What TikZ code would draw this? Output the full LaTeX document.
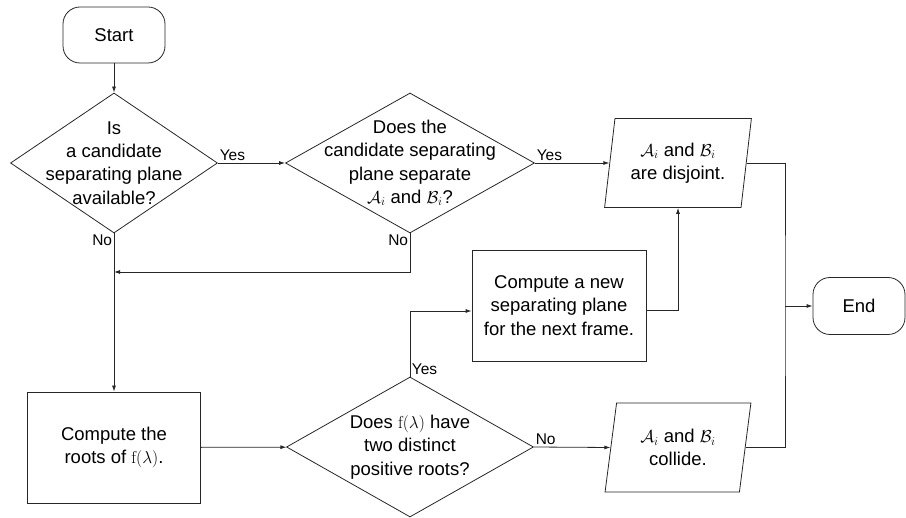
\documentclass[tikz,border=0pt]{standalone}
\usepackage[no-math]{fontspec}
\setmainfont{Liberation Sans}
\usepackage{amsmath}
\usetikzlibrary{shapes.geometric, positioning, calc, arrows.meta}
\tikzset{
	flow/.style={draw=black!85, line width=0.8pt},
	terminal/.style={flow, rectangle, rounded corners=17pt, minimum width=102pt, minimum height=56pt},
	process/.style={flow, rectangle, minimum width=174pt, minimum height=111pt, align=center},
	decision/.style={flow, diamond, inner sep=0pt, minimum width=#1, minimum height=140pt},
	io/.style={flow, trapezium, trapezium left angle=80, trapezium right angle=100, trapezium stretches=true, minimum width=147pt, minimum height=89pt, align=center},
	answer/.style={font=\fontsize{15.5}{17}\selectfont, inner sep=1.5pt},
	link/.style={flow, -{Latex[length=6pt,width=4pt]}}
}

\begin{document}
\begin{tikzpicture}[x=1pt, y=-1pt, every node/.append style={font=\fontsize{18.5}{23.3}\selectfont}]
	\useasboundingbox (0,0) rectangle (906,518);
	\node[terminal] (start) at (114,35) {Start};
	\node[decision=207pt, label={[align=center]center:Is\\a candidate\\separating plane\\available?}] (plane avail) at (114,163) {};
	\node[decision=249pt, label={[align=center]center:Does the\\candidate separating\\plane separate\\$\mathcal{A}_i$ and $\mathcal{B}_i$?}] (plane test) at (410,163) {};
	\node[io] (disjoint) at (678,163) {$\mathcal{A}_i$ and $\mathcal{B}_i$\\are disjoint.};
	\node[process] (new plane) at (559,305.5) {Compute a new\\separating plane\\for the next frame.};
	\node[terminal, minimum width=92pt, minimum height=57pt] (end) at (859,306) {End};
	\node[process, minimum width=173pt] (roots) at (114,447.5) {Compute the\\roots of $\mathrm{f}(\lambda)$.};
	\node[decision=247pt, label={[align=center]center:Does $\mathrm{f}(\lambda)$ have\\two distinct\\positive roots?}] (root test) at (410,447) {};
	\node[io] (collide) at (678,447.5) {$\mathcal{A}_i$ and $\mathcal{B}_i$\\collide.};
	\coordinate (merge) at (114,272);
	\coordinate (join) at (785,306);

	\draw[link] (start) -- (plane avail);
	\draw[link] (plane avail.east) -- node[answer, pos=0, anchor=south west] {Yes} (plane test.west);
	\draw[link] (plane avail.south) -- node[answer, pos=0, anchor=north east] {No} (roots.north);
	\draw[link] (plane test.east) -- node[answer, pos=0, anchor=south west] {Yes} (disjoint.left side);
	\draw[link] (plane test.south) node[answer, anchor=north east] {No} |- (merge);
	\draw[link] (roots) -- (root test);
	\draw[link] (root test.north) node[answer, anchor=south west] {Yes} |- ([yshift=-5.5pt]new plane.west);
	\draw[link] (root test.east) -- node[answer, pos=0, anchor=south west] {No} (collide.left side);
	\draw[link] ([yshift=-5pt]new plane.east) -| (disjoint);
	\draw[flow] (disjoint.right side) -| (join) |- (collide.right side);
	\draw[link] (join) -- (end);
\end{tikzpicture}
\end{document}
